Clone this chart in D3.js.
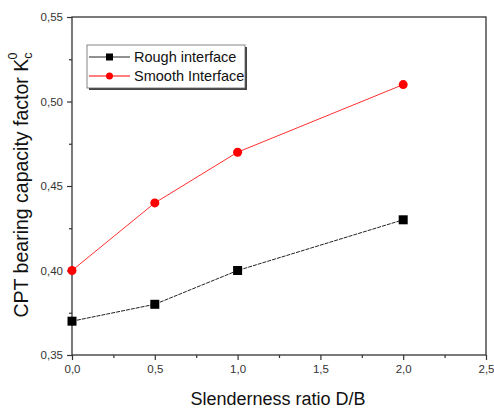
<!DOCTYPE html>
<html>
<head>
<meta charset="utf-8">
<script src="https://cdn.jsdelivr.net/npm/d3@7"></script>
<style>
  body { margin: 0; background: #fff; }
  svg { font-family: Arial, "Liberation Sans", sans-serif; }
</style>
</head>
<body>
<svg width="494" height="410"></svg>
<script>
const ratios = [0, 0.5, 1, 2];
const rough = [0.37, 0.38, 0.40, 0.43];
const smooth = [0.40, 0.44, 0.47, 0.51];
const xTicks = [0, 0.5, 1, 1.5, 2, 2.5];
const yTicks = [0.35, 0.40, 0.45, 0.50, 0.55];

const svg = d3.select('svg');
const plotLeft = 72, plotRight = 486, plotTop = 17, plotBottom = 355;

const xScale = d3.scaleLinear().domain([0, 2.5]).range([plotLeft, plotRight]);
const yScale = d3.scaleLinear().domain([0.35, 0.55]).range([plotBottom, plotTop]);

const comma = d3.formatLocale({decimal: ',', thousands: '.', grouping: [3], currency: ['', '']});

// frame
svg.append('rect')
  .attr('x', plotLeft).attr('y', plotTop)
  .attr('width', plotRight - plotLeft).attr('height', plotBottom - plotTop)
  .attr('fill', 'none').attr('stroke', '#333').attr('stroke-width', 1.3);

// minor ticks
const xMinor = d3.range(0.25, 2.5, 0.5);
const yMinor = d3.range(0.375, 0.55, 0.05);

svg.append('g')
  .attr('transform', `translate(0, ${plotBottom})`)
  .call(d3.axisBottom(xScale).tickValues(xTicks).tickSize(5).tickPadding(5).tickFormat(comma.format('.1f')));
svg.append('g')
  .attr('transform', `translate(0, ${plotBottom})`)
  .call(d3.axisBottom(xScale).tickValues(xMinor).tickSize(3).tickFormat(''));

svg.append('g')
  .attr('transform', `translate(${plotLeft}, 0)`)
  .call(d3.axisLeft(yScale).tickValues(yTicks).tickSize(5).tickPadding(4).tickFormat(comma.format('.2f')));
svg.append('g')
  .attr('transform', `translate(${plotLeft}, 0)`)
  .call(d3.axisLeft(yScale).tickValues(yMinor).tickSize(3).tickFormat(''));

svg.selectAll('.domain').remove();
svg.selectAll('.tick line').attr('stroke', '#333').attr('stroke-width', 1.2);
svg.selectAll('.tick text')
  .attr('font-size', 11.5).attr('fill', '#333')
  .attr('font-family', 'Arial, "Liberation Sans", sans-serif');

// lines
const line = d3.line()
  .x((d, i) => xScale(ratios[i]))
  .y(d => yScale(d));

svg.append('path')
  .datum(rough)
  .attr('d', line)
  .attr('fill', 'none')
  .attr('stroke', '#222')
  .attr('stroke-width', 1)
  .attr('stroke-dasharray', '4,1');

svg.append('path')
  .datum(smooth)
  .attr('d', line)
  .attr('fill', 'none')
  .attr('stroke', '#ff3030')
  .attr('stroke-width', 1);

svg.selectAll('.sq')
  .data(rough)
  .enter()
  .append('rect')
  .attr('x', (d, i) => xScale(ratios[i]) - 4.5)
  .attr('y', d => yScale(d) - 4.5)
  .attr('width', 9).attr('height', 9)
  .attr('fill', '#000');

svg.selectAll('.dot')
  .data(smooth)
  .enter()
  .append('circle')
  .attr('cx', (d, i) => xScale(ratios[i]))
  .attr('cy', d => yScale(d))
  .attr('r', 4.5)
  .attr('fill', '#ff0000');

// legend
const lg = svg.append('g').attr('transform', 'translate(87, 45)');
lg.append('rect').attr('x', 2).attr('y', 2).attr('width', 158).attr('height', 43).attr('fill', '#444');
lg.append('rect').attr('x', 0).attr('y', 0).attr('width', 158).attr('height', 43)
  .attr('fill', '#fff').attr('stroke', '#666').attr('stroke-width', 0.8);

const items = [
  {name: 'Rough interface', color: '#222', shape: 'sq'},
  {name: 'Smooth Interface', color: '#ff0000', shape: 'dot'}
];
items.forEach((it, i) => {
  const y = 12 + i * 19;
  lg.append('line').attr('x1', 2).attr('x2', 43).attr('y1', y).attr('y2', y)
    .attr('stroke', it.color).attr('stroke-width', 1);
  if (it.shape === 'sq') {
    lg.append('rect').attr('x', 19).attr('y', y - 3.5).attr('width', 7).attr('height', 7).attr('fill', '#000');
  } else {
    lg.append('circle').attr('cx', 22.5).attr('cy', y).attr('r', 3.5).attr('fill', '#ff0000');
  }
  lg.append('text').attr('x', 47).attr('y', y + 5)
    .attr('font-size', 14.5).attr('fill', '#111')
    .text(it.name);
});

// axis labels
svg.append('text')
  .attr('x', 278)
  .attr('y', 405)
  .attr('text-anchor', 'middle')
  .attr('font-size', 18)
  .attr('fill', '#111')
  .text('Slenderness ratio D/B');

const yl = svg.append('text')
  .attr('transform', 'translate(28, 185) rotate(-90)')
  .attr('text-anchor', 'middle')
  .attr('font-size', 19.5)
  .attr('fill', '#111');
yl.append('tspan').text('CPT bearing capacity factor K');
yl.append('tspan').attr('font-size', 12.5).attr('dy', 4).text('c');
yl.append('tspan').attr('font-size', 12.5).attr('dx', -7).attr('dy', -15).text('0');
</script>
</body>
</html>
